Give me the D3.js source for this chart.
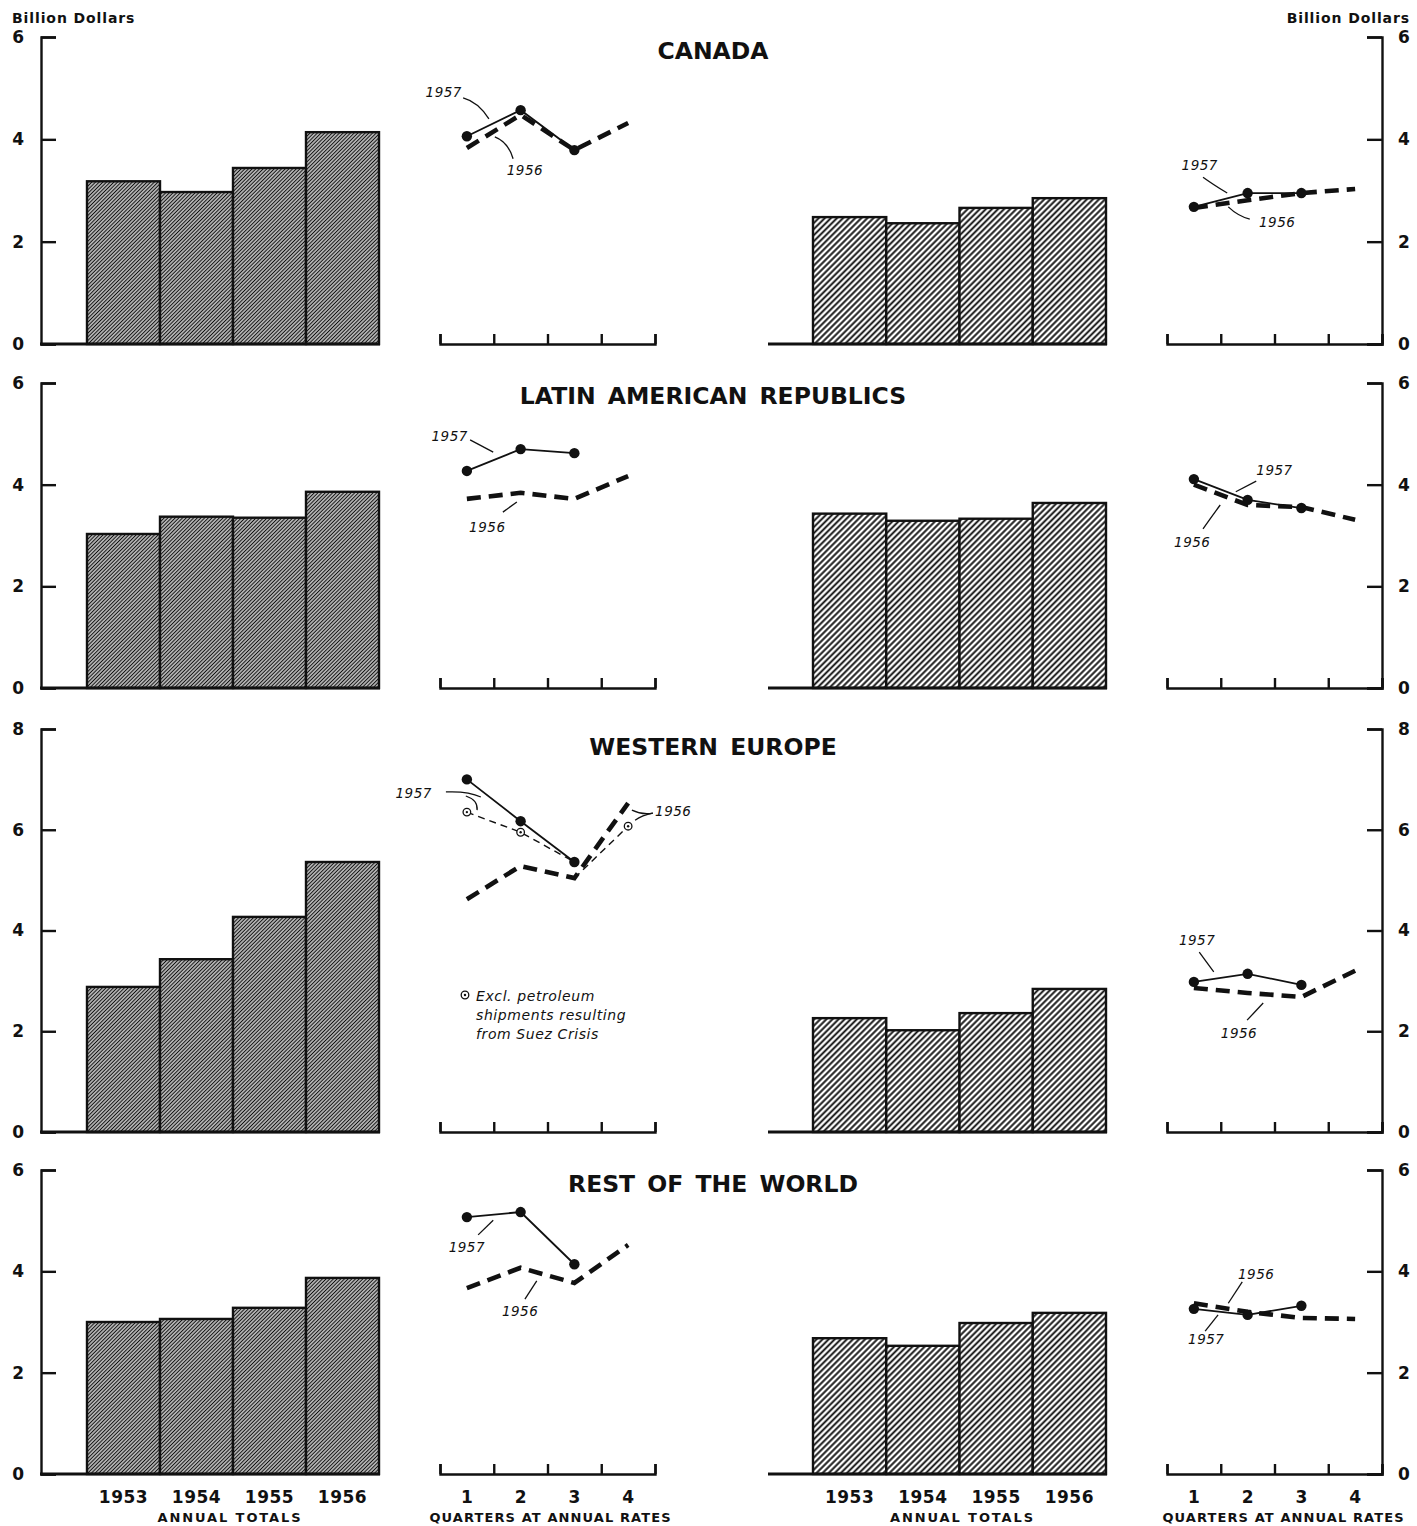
<!DOCTYPE html>
<html>
<head>
<meta charset="utf-8">
<script src="https://cdnjs.cloudflare.com/ajax/libs/d3/7.8.5/d3.min.js"></script>
<style>
  body { margin: 0; background: #fff; }
  svg text { font-family: "DejaVu Sans", sans-serif; fill: #111; }
</style>
</head>
<body>
<svg id="chart" width="1417" height="1526"></svg>
<script>
// ---- data (billion dollars) ----
const years = ['1953', '1954', '1955', '1956']
const quarters = [1, 2, 3, 4]
const regions = ['CANADA', 'LATIN AMERICAN REPUBLICS', 'WESTERN EUROPE', 'REST OF THE WORLD']
const yMax = [6, 6, 8, 6]

const leftAnnual = [
  [3.18, 2.97, 3.44, 4.14],
  [3.03, 3.37, 3.35, 3.86],
  [2.88, 3.43, 4.27, 5.36],
  [3.00, 3.06, 3.28, 3.87]
]
const leftQ1957 = [
  [4.06, 4.57, 3.79],
  [4.27, 4.70, 4.62],
  [7.00, 6.17, 5.36],
  [5.07, 5.17, 4.14]
]
const leftQ1956 = [
  [3.83, 4.48, 3.79, 4.32],
  [3.72, 3.84, 3.72, 4.17],
  [4.62, 5.28, 5.04, 6.53],
  [3.67, 4.07, 3.77, 4.52]
]
// western europe, excl. petroleum shipments resulting from Suez crisis
const exclPetrol1957 = [6.35, 5.95, 5.36]
const exclPetrol1956 = [null, null, 5.04, 6.07]

const rightAnnual = [
  [2.48, 2.36, 2.66, 2.85],
  [3.43, 3.29, 3.33, 3.64],
  [2.26, 2.02, 2.36, 2.84],
  [2.68, 2.53, 2.98, 3.18]
]
const rightQ1957 = [
  [2.68, 2.95, 2.95],
  [4.11, 3.70, 3.54],
  [2.98, 3.14, 2.92],
  [3.26, 3.14, 3.32]
]
const rightQ1956 = [
  [2.66, 2.81, 2.95, 3.03],
  [4.00, 3.60, 3.56, 3.31],
  [2.86, 2.76, 2.68, 3.20],
  [3.37, 3.20, 3.08, 3.06]
]

// year labels on the quarterly lines, in (quarter, value) units
const notes = [
  { row: 0, side: 'L', text: '1957', at: [0.57, 4.83], lead: [[0.93, 4.81], [1.21, 4.73], [1.41, 4.40]] },
  { row: 0, side: 'L', text: '1956', at: [2.08, 3.30], lead: [[1.52, 4.05], [1.77, 3.95], [1.86, 3.62]] },
  { row: 0, side: 'R', text: '1957', at: [1.11, 3.40], lead: [[1.17, 3.26], [1.34, 3.13], [1.62, 2.95]] },
  { row: 0, side: 'R', text: '1956', at: [2.55, 2.29], lead: [[1.64, 2.68], [1.82, 2.50], [2.04, 2.44]] },
  { row: 1, side: 'L', text: '1957', at: [0.68, 4.86], lead: [[1.06, 4.88], [1.49, 4.64]] },
  { row: 1, side: 'L', text: '1956', at: [1.38, 3.07], lead: [[1.67, 3.46], [1.93, 3.66]] },
  { row: 1, side: 'R', text: '1957', at: [2.50, 4.19], lead: [[2.16, 4.07], [1.78, 3.86]] },
  { row: 1, side: 'R', text: '1956', at: [0.97, 2.77], lead: [[1.17, 3.13], [1.35, 3.40], [1.49, 3.60]] },
  { row: 2, side: 'L', text: '1957', at: [0.01, 6.63], lead: [[0.61, 6.75], [1.02, 6.77], [1.26, 6.65]] },
  { row: 2, side: 'L', text: '', at: [0, 0], lead: [[0.98, 6.67], [1.21, 6.59], [1.19, 6.39]] },
  { row: 2, side: 'L', text: '1956', at: [4.84, 6.27], lead: [[4.07, 6.39], [4.26, 6.29], [4.46, 6.33]] },
  { row: 2, side: 'L', text: '', at: [0, 0], lead: [[4.13, 6.19], [4.26, 6.29], [4.46, 6.33]] },
  { row: 2, side: 'R', text: '1957', at: [1.06, 3.71], lead: [[1.10, 3.57], [1.25, 3.35], [1.37, 3.18]] },
  { row: 2, side: 'R', text: '1956', at: [1.84, 1.87], lead: [[1.99, 2.22], [2.29, 2.56]] },
  { row: 3, side: 'L', text: '1957', at: [1.00, 4.38], lead: [[1.21, 4.72], [1.49, 5.01]] },
  { row: 3, side: 'L', text: '1956', at: [1.99, 3.12], lead: [[2.08, 3.45], [2.30, 3.81]] },
  { row: 3, side: 'R', text: '1956', at: [2.16, 3.85], lead: [[1.90, 3.79], [1.64, 3.37]] },
  { row: 3, side: 'R', text: '1957', at: [1.23, 2.57], lead: [[1.21, 2.82], [1.45, 3.14]] }
]
const footnote = ['Excl. petroleum', 'shipments resulting', 'from Suez Crisis']

// ---- layout ----
const ROWS = [
  { y0: 344, yTop: 37, titleY: 59 },
  { y0: 688, yTop: 383, titleY: 404 },
  { y0: 1132, yTop: 729, titleY: 755 },
  { y0: 1474, yTop: 1170, titleY: 1192 }
]
const LEFT_AXIS_X = 41
const RIGHT_AXIS_X = 1382
const LEFT_BARS = [87, 379]
const RIGHT_BARS = [813, 1106]
const LEFT_Q = [440, 655]
const RIGHT_Q = [1167, 1382]

const svg = d3.select('#chart')
const defs = svg.append('defs')

function hatch(id, gap, width) {
  const p = defs.append('pattern')
    .attr('id', id)
    .attr('patternUnits', 'userSpaceOnUse')
    .attr('width', gap)
    .attr('height', gap)
    .attr('patternTransform', 'rotate(45)')
  p.append('rect').attr('width', gap).attr('height', gap).attr('fill', '#fff')
  p.append('line')
    .attr('x1', gap / 2).attr('x2', gap / 2)
    .attr('y1', 0).attr('y2', gap)
    .attr('stroke', '#111')
    .attr('stroke-width', width)
}
hatch('hatch-dense', 2.6, 1.45)
hatch('hatch-open', 4.3, 1.9)

const xBandL = d3.scaleBand().domain(years).range(LEFT_BARS)
const xBandR = d3.scaleBand().domain(years).range(RIGHT_BARS)
const xQL = d3.scaleLinear().domain([0.5, 4.5]).range(LEFT_Q)
const xQR = d3.scaleLinear().domain([0.5, 4.5]).range(RIGHT_Q)
const qBounds = [0.5, 1.5, 2.5, 3.5, 4.5]

const line = (xs, ys) => d3.line()
  .defined(d => d != null)
  .x((d, i) => xs(quarters[i]))
  .y(d => ys(d))

regions.forEach((name, r) => {
  const row = ROWS[r]
  const y = d3.scaleLinear().domain([0, yMax[r]]).range([row.y0, row.yTop])
  const g = svg.append('g').attr('class', 'row')
  const ticks = d3.range(0, yMax[r] + 1, 2)

  // title
  g.append('text')
    .attr('x', 713).attr('y', row.titleY)
    .attr('text-anchor', 'middle')
    .attr('font-family', '"Liberation Sans", Arial, sans-serif')
    .attr('font-weight', 'bold')
    .attr('font-size', 23.5)
    .attr('word-spacing', 4)
    .text(name)

  // value axes
  g.append('g')
    .attr('transform', `translate(${LEFT_AXIS_X},0)`)
    .call(d3.axisLeft(y).tickValues(ticks).tickSize(-15).tickPadding(17).tickFormat(d3.format('d')))
    .call(styleAxis)
    .selectAll('text').attr('text-anchor', 'end')

  g.append('g')
    .attr('transform', `translate(${RIGHT_AXIS_X},0)`)
    .call(d3.axisRight(y).tickValues(ticks).tickSize(-15).tickPadding(16).tickFormat(d3.format('d')))
    .call(styleAxis)

  // annual bars
  drawBars(g, xBandL, y, leftAnnual[r], 'hatch-dense', LEFT_AXIS_X - 1, LEFT_BARS[1] + 1, row.y0)
  drawBars(g, xBandR, y, rightAnnual[r], 'hatch-open', 768, RIGHT_BARS[1] + 1, row.y0)

  // quarterly panels
  ;[[xQL, leftQ1956[r], leftQ1957[r]], [xQR, rightQ1956[r], rightQ1957[r]]].forEach(([xq, s56, s57]) => {
    g.append('g')
      .attr('transform', `translate(0,${row.y0})`)
      .call(d3.axisBottom(xq).tickValues(qBounds).tickSize(-10).tickFormat(''))
      .call(ax => ax.selectAll('path, line').attr('stroke', '#111').attr('stroke-width', 2.4))

    g.append('path')
      .datum(s56)
      .attr('d', line(xq, y))
      .attr('fill', 'none')
      .attr('stroke', '#111')
      .attr('stroke-width', 4.6)
      .attr('stroke-dasharray', '14,8')

    g.append('path')
      .datum(s57)
      .attr('d', line(xq, y))
      .attr('fill', 'none')
      .attr('stroke', '#111')
      .attr('stroke-width', 1.8)

    g.selectAll(null)
      .data(s57)
      .enter().append('circle')
      .attr('cx', (d, i) => xq(quarters[i]))
      .attr('cy', d => y(d))
      .attr('r', 5.2)
      .attr('fill', '#111')
  })

  if (r === 2) drawExclPetrol(g, y)

  // leader labels
  notes.filter(n => n.row === r).forEach(n => {
    const xq = n.side === 'L' ? xQL : xQR
    const pts = n.lead.map(([q, v]) => [xq(q), y(v)])
    const d = pts.length === 3
      ? `M${pts[0]}Q${pts[1]} ${pts[2]}`
      : `M${pts[0]}L${pts[1]}`
    g.append('path')
      .attr('d', d)
      .attr('fill', 'none')
      .attr('stroke', '#111')
      .attr('stroke-width', 1.3)
    if (n.text) {
      g.append('text')
        .attr('x', xq(n.at[0])).attr('y', y(n.at[1]))
        .attr('text-anchor', 'middle')
        .attr('font-style', 'italic')
        .attr('font-size', 13.5)
        .attr('letter-spacing', 0.5)
        .text(n.text)
    }
  })

  // category labels under the last row
  if (r === regions.length - 1) {
    const labY = row.y0 + 29
    ;[[xBandL, -3], [xBandR, 3]].forEach(([xb, shift]) => {
      g.selectAll(null)
        .data(years)
        .enter().append('text')
        .attr('x', d => xb(d) + xb.bandwidth() / 2)
        .attr('y', labY)
        .attr('text-anchor', 'middle')
        .attr('font-weight', 'bold')
        .attr('font-size', 17)
        .attr('letter-spacing', 0.5)
        .text(d => d)
      g.append('text')
        .attr('x', (xb.range()[0] + xb.range()[1]) / 2 + shift)
        .attr('y', labY + 19)
        .attr('text-anchor', 'middle')
        .attr('font-weight', 'bold')
        .attr('font-size', 13)
        .attr('letter-spacing', 1.9)
        .text('ANNUAL TOTALS')
    })
    ;[[xQL, 3], [xQR, 9]].forEach(([xq, shift]) => {
      g.selectAll(null)
        .data(quarters)
        .enter().append('text')
        .attr('x', d => xq(d))
        .attr('y', labY)
        .attr('text-anchor', 'middle')
        .attr('font-weight', 'bold')
        .attr('font-size', 17)
        .text(d => d)
      g.append('text')
        .attr('x', (xq.range()[0] + xq.range()[1]) / 2 + shift)
        .attr('y', labY + 19)
        .attr('text-anchor', 'middle')
        .attr('font-weight', 'bold')
        .attr('font-size', 13)
        .attr('letter-spacing', 1.1)
        .text('QUARTERS AT ANNUAL RATES')
    })
  }
})

// unit labels
svg.append('text')
  .attr('x', 12).attr('y', 23)
  .attr('font-weight', 'bold').attr('font-size', 14).attr('letter-spacing', 0.9)
  .text('Billion Dollars')
svg.append('text')
  .attr('x', 1410).attr('y', 23)
  .attr('text-anchor', 'end')
  .attr('font-weight', 'bold').attr('font-size', 14).attr('letter-spacing', 0.9)
  .text('Billion Dollars')

function styleAxis(ax) {
  ax.selectAll('path, line').attr('stroke', '#111').attr('stroke-width', 2.4)
  ax.selectAll('text')
    .attr('font-family', '"DejaVu Sans", sans-serif')
    .attr('font-weight', 'bold')
    .attr('font-size', 17)
    .attr('fill', '#111')
}

function drawBars(g, xb, y, values, fill, baseFrom, baseTo, y0) {
  g.selectAll(null)
    .data(values)
    .enter().append('rect')
    .attr('x', (d, i) => xb(years[i]))
    .attr('y', d => y(d))
    .attr('width', xb.bandwidth())
    .attr('height', d => y(0) - y(d))
    .attr('fill', `url(#${fill})`)
    .attr('stroke', '#111')
    .attr('stroke-width', 2.4)
  g.append('line')
    .attr('x1', baseFrom).attr('x2', baseTo)
    .attr('y1', y0).attr('y2', y0)
    .attr('stroke', '#111')
    .attr('stroke-width', 3)
}

function drawExclPetrol(g, y) {
  const thin = d3.line().defined(d => d != null).x((d, i) => xQL(quarters[i])).y(d => y(d))
  ;[exclPetrol1957, exclPetrol1956].forEach(s => {
    g.append('path')
      .datum(s)
      .attr('d', thin)
      .attr('fill', 'none')
      .attr('stroke', '#111')
      .attr('stroke-width', 1.4)
      .attr('stroke-dasharray', '7,5')
  })
  // markers: 1957 Q1-Q2, 1956 Q4
  const marks = exclPetrol1957.slice(0, 2).map((v, i) => [quarters[i], v])
    .concat([[quarters[3], exclPetrol1956[3]]])
  marks.forEach(([q, v]) => circleDot(g, xQL(q), y(v)))

  // footnote
  const fx = xQL(1.17)
  const fy = y(2.6)
  circleDot(g, xQL(0.965), y(2.72))
  g.append('text')
    .attr('font-style', 'italic')
    .attr('font-size', 14)
    .attr('letter-spacing', 0.6)
    .selectAll('tspan')
    .data(footnote)
    .enter().append('tspan')
    .attr('x', fx)
    .attr('y', (d, i) => fy + i * 19)
    .text(d => d)
}

function circleDot(g, cx, cy) {
  g.append('circle').attr('cx', cx).attr('cy', cy).attr('r', 3.8)
    .attr('fill', '#fff').attr('stroke', '#111').attr('stroke-width', 1.3)
  g.append('circle').attr('cx', cx).attr('cy', cy).attr('r', 1.2).attr('fill', '#111')
}
</script>
</body>
</html>
